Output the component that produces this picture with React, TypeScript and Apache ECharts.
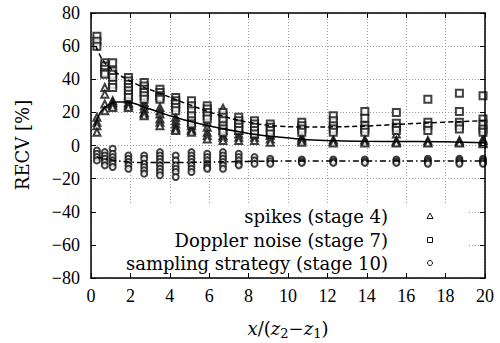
import React, { useEffect, useRef } from "react";
import * as echarts from "echarts";

const colX = [0.3, 0.7, 1.1, 1.9, 2.7, 3.5, 4.3, 5.1, 5.9, 6.7, 7.5, 8.3, 9.1, 10.7, 12.3, 13.9, 15.5, 17.1, 18.7, 19.9];

const spikesVals = [
  [17, 14, 12, 8],
  [35, 31, 25, 21],
  [27, 26, 25, 24, 23],
  [30, 28, 26, 25, 24, 23],
  [26, 24, 22, 20, 19, 18],
  [23, 21, 19, 16, 14, 12],
  [17, 15, 13, 11, 10, 9],
  [14, 12, 10, 9, 8],
  [14, 11, 8, 6, 4],
  [22.5, 12, 9, 6, 5, 3],
  [11, 9, 7, 5, 3],
  [9, 7, 5, 3],
  [8, 6, 4, 2],
  [5, 4, 3, 2],
  [3.5, 2.5, 1.5],
  [3.5, 2.5, 1.5],
  [7, 3, 2, 1.5],
  [3, 2, 1.5],
  [3, 2, 1.5],
  [4, 3, 2, 1],
];

const dopplerVals = [
  [66, 63, 60],
  [50, 48, 46, 44, 43],
  [50, 45, 43, 41, 37, 35],
  [41, 39, 37, 35, 33, 31, 29],
  [38, 36, 34, 32, 30, 28],
  [34, 32, 30, 29, 28],
  [29, 27, 25, 23, 21],
  [27, 24, 21, 18, 15, 13],
  [24, 22, 20, 18, 16],
  [20, 17, 15, 12, 10, 8],
  [17, 15, 13, 11, 9],
  [15, 13, 11, 9, 7],
  [13, 11, 9, 7],
  [14, 12, 10, 8],
  [18, 15, 12, 10, 8],
  [20.5, 16.5, 12, 10, 8],
  [20, 13.5, 11, 9],
  [28, 14, 12, 9],
  [31.5, 20.5, 14, 12, 10],
  [30, 16, 13, 10, 8],
];

const samplingVals = [
  [-3, -5, -7, -9],
  [-4, -6, -8, -10, -12],
  [-2, -5, -7, -9, -11, -13],
  [-6, -8, -10, -12, -14],
  [-6, -8, -11, -13, -15, -17],
  [-4, -6, -8, -10, -12, -14, -16, -18],
  [-6, -9, -12, -14, -16, -19],
  [-4, -6, -8, -10, -12, -14, -16],
  [-5, -7, -9, -11, -13, -14],
  [-4, -6, -8, -10, -12, -14],
  [-5, -7, -9, -11, -12],
  [-7, -9, -11],
  [-8, -9.5, -11],
  [-8.5, -9.5, -10.5],
  [-8.5, -9.5, -10.5],
  [-8.5, -9.5, -10.5],
  [-8.5, -9.5, -10.5],
  [-8, -9, -10, -11],
  [-8, -9, -10, -11],
  [-8, -9, -10, -11],
];

const spikesFitX = [0.2, 0.45, 0.7, 1.0, 1.3, 1.7, 2.2, 2.8, 3.5, 4, 5.2, 6.5, 8, 9.6, 11, 12.5, 14, 16, 18, 20];
const spikesFitY = [12, 19.5, 23, 25.3, 26.2, 26.2, 25.3, 22.8, 20, 18, 14, 10.5, 7.3, 5, 3.5, 2.8, 2.5, 2.4, 2.2, 1.6];

const dopplerFitX = [0.25, 0.45, 0.7, 1.2, 2.2, 3.5, 4.9, 6.5, 8, 9.6, 11, 12.5, 14, 17, 20];
const dopplerFitY = [60, 54.5, 50, 44.6, 37.6, 31.5, 25, 18.4, 14, 11.6, 11.2, 11.3, 11.8, 13.6, 15];

const samplingFitX = [0.3, 0.7, 1.2, 2, 3, 4, 6, 8, 10, 14, 20];
const samplingFitY = [-7, -8, -9, -10, -10.3, -10.3, -10, -9.6, -9.4, -9.3, -9.3];

const legendLabels = ["spikes (stage 4)", "Doppler noise (stage 7)", "sampling strategy (stage 10)"];
const xTitle = "{i|x}{n|/(}{i|z}{s|2}{n|\u2212}{i|z}{s|1}{n|)}";
const yTitle = "RECV [%]";

const toPoints = (vals: number[][]) => {
  const out: number[][] = [];
  vals.forEach((col, i) => col.forEach((v) => out.push([colX[i], v])));
  return out;
};
const zip = (xs: number[], ys: number[]) => xs.map((x, i) => [x, ys[i]]);

const TICK_FONT = "Liberation Serif";
const TEXT_FONT = "DejaVu Serif";

export default function App() {
  const ref = useRef<HTMLDivElement>(null);
  useEffect(() => {
    document.body.style.margin = "0";
    const chart = echarts.init(ref.current!, null, { renderer: "svg" });
    const G = { left: 91, top: 13, width: 394, height: 265 };
    const axisLineStyle = { color: "#000", width: 1.5 };
    const fmt = (v: number) => (v < 0 ? "\u2212" + Math.abs(v) : String(v));
    const lx = 430;
    const ly = [216, 240, 263];
    const mk = { color: "#111", borderColor: "#111", borderWidth: 1.1 };
    chart.setOption({
      animation: false,
      backgroundColor: "#fff",
      grid: { left: G.left, top: G.top, width: G.width, height: G.height },
      xAxis: [
        {
          type: "value", min: 0, max: 20, interval: 2, position: "bottom", z: 3,
          axisLine: { show: true, onZero: false, lineStyle: axisLineStyle },
          axisTick: { inside: true, length: 5, lineStyle: { color: "#000", width: 1 } },
          axisLabel: { color: "#000", fontFamily: TICK_FONT, fontSize: 18, margin: 9 },
          splitLine: { show: false },
        },
        {
          type: "value", min: 0, max: 20, interval: 2, position: "bottom", z: 0,
          axisLine: { show: false }, axisTick: { show: false }, axisLabel: { show: false },
          splitLine: { show: true, lineStyle: { color: "#999", type: [1, 2], width: 1 } },
        },
        {
          type: "value", min: 0, max: 20, interval: 2, position: "top", z: 3,
          axisLine: { show: true, onZero: false, lineStyle: axisLineStyle },
          axisTick: { inside: true, length: 5, lineStyle: { color: "#000", width: 1 } },
          axisLabel: { show: false }, splitLine: { show: false },
        },
      ],
      yAxis: [
        {
          type: "value", min: -80, max: 80, interval: 20, position: "left", z: 3,
          axisLine: { show: true, onZero: false, lineStyle: axisLineStyle },
          axisTick: { inside: true, length: 5, lineStyle: { color: "#000", width: 1 } },
          axisLabel: { color: "#000", fontFamily: TICK_FONT, fontSize: 18, margin: 11, formatter: fmt },
          splitLine: { show: false },
        },
        {
          type: "value", min: -80, max: 80, interval: 20, position: "left", z: 0,
          axisLine: { show: false }, axisTick: { show: false }, axisLabel: { show: false },
          splitLine: { show: true, lineStyle: { color: "#999", type: [1, 2], width: 1 } },
        },
        {
          type: "value", min: -80, max: 80, interval: 20, position: "right", z: 3,
          axisLine: { show: true, onZero: false, lineStyle: axisLineStyle },
          axisTick: { inside: true, length: 5, lineStyle: { color: "#000", width: 1 } },
          axisLabel: { show: false }, splitLine: { show: false },
        },
      ],
      series: [
        {
          type: "scatter", name: legendLabels[0], data: toPoints(spikesVals),
          symbol: "emptyTriangle", symbolSize: 7, itemStyle: mk,
        },
        {
          type: "scatter", name: legendLabels[1], data: toPoints(dopplerVals),
          symbol: "emptyRect", symbolSize: 7, itemStyle: mk,
        },
        {
          type: "scatter", name: legendLabels[2], data: toPoints(samplingVals),
          symbol: "emptyCircle", symbolSize: 6, itemStyle: mk,
        },
        {
          type: "line", data: zip(spikesFitX, spikesFitY), smooth: 0.4, showSymbol: false,
          lineStyle: { color: "#000", width: 1.5, type: "solid" }, z: 4,
        },
        {
          type: "line", data: zip(dopplerFitX, dopplerFitY), smooth: 0.4, showSymbol: false,
          lineStyle: { color: "#000", width: 1.5, type: [5, 3] }, z: 4,
        },
        {
          type: "line", data: zip(samplingFitX, samplingFitY), smooth: 0.4, showSymbol: false,
          lineStyle: { color: "#000", width: 1.5, type: [6, 3, 1.5, 3] }, z: 4,
        },
      ],
      graphic: [
        { type: "rect", z: 1, shape: { x: 92.5, y: 203, width: 376, height: 74 }, style: { fill: "#fff" } },
        ...legendLabels.map((t, i) => ({
          type: "text", z: 5, x: 388, y: ly[i],
          style: { text: t, align: "right", verticalAlign: "middle", fontFamily: TEXT_FONT, fontSize: 18, fill: "#000" },
        })),
        {
          type: "polygon", z: 5,
          shape: { points: [[lx, ly[0] - 3], [lx + 3, ly[0] + 2.5], [lx - 3, ly[0] + 2.5]] },
          style: { fill: "#fff", stroke: "#111", lineWidth: 1 },
        },
        { type: "rect", z: 5, shape: { x: lx - 2.5, y: ly[1] - 2.5, width: 5, height: 5 }, style: { fill: "#fff", stroke: "#111", lineWidth: 1 } },
        { type: "circle", z: 5, shape: { cx: lx, cy: ly[2], r: 2.5 }, style: { fill: "#fff", stroke: "#111", lineWidth: 1 } },
        {
          type: "text", z: 5, x: 22, y: 145, rotation: Math.PI / 2,
          style: { text: yTitle, align: "center", verticalAlign: "middle", fontFamily: TEXT_FONT, fontSize: 18, fill: "#000" },
        },
        {
          type: "text", z: 5, x: 288, y: 328,
          style: {
            text: xTitle, align: "center", verticalAlign: "middle", fill: "#000",
            rich: {
              i: { fontFamily: TEXT_FONT, fontStyle: "italic", fontSize: 18, lineHeight: 24 },
              n: { fontFamily: TEXT_FONT, fontSize: 18, lineHeight: 24 },
              s: { fontFamily: TEXT_FONT, fontSize: 13, lineHeight: 12, verticalAlign: "bottom" },
            },
          },
        },
      ],
    });
    return () => chart.dispose();
  }, []);
  return <div ref={ref} style={{ width: 500, height: 343 }} />;
}
